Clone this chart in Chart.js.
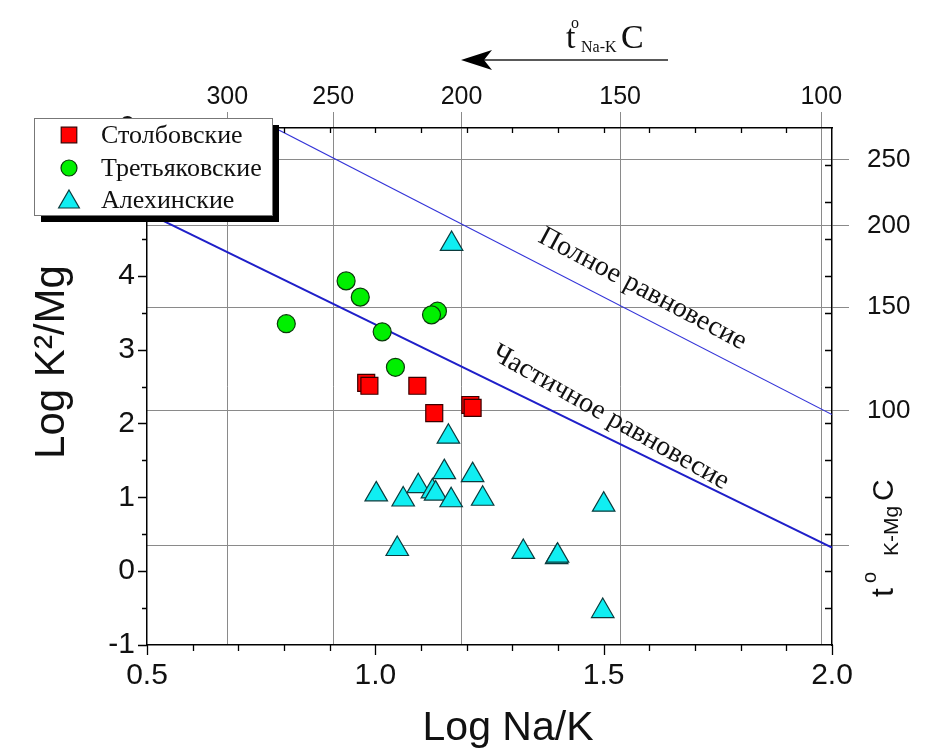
<!DOCTYPE html>
<html>
<head>
<meta charset="utf-8">
<script src="https://cdn.jsdelivr.net/npm/chart.js@4.4.1/dist/chart.umd.min.js"></script>
<style>
  html, body { margin: 0; padding: 0; background: #fff; }
  canvas { display: block; }
</style>
</head>
<body>
<canvas id="myChart" width="952" height="749"></canvas>
<script>
// ============  data ============ //

const stolbX = [0.980, 0.987, 1.092, 1.129, 1.208, 1.213];
const stolbY = [2.55, 2.51, 2.51, 2.14, 2.25, 2.21];

const tretX = [0.805, 0.936, 0.967, 1.015, 1.044, 1.136, 1.123];
const tretY = [3.35, 3.93, 3.71, 3.24, 2.76, 3.52, 3.47];

const alekhX = [1.167, 1.160, 1.151, 1.213, 1.002, 1.061, 1.094, 1.125, 1.132, 1.166, 1.235, 1.500, 1.048, 1.324, 1.397, 1.399, 1.498];
const alekhY = [4.43, 1.82, 1.34, 1.30, 1.04, 0.97, 1.15, 1.08, 1.05, 0.96, 0.98, 0.90, 0.30, 0.26, 0.19, 0.21, -0.54];

// equilibrium lines (end points)
const fullEqX = [0.78, 2.0];
const fullEqY = [6.0, 2.12];
const partEqX = [0.5, 2.0];
const partEqY = [4.85, 0.32];

// tick labels
const xTicks = [0.5, 1.0, 1.5, 2.0];
const yTicks = [-1, 0, 1, 2, 3, 4, 5, 6];
const tNaK = [300, 250, 200, 150, 100];          // top axis, deg C
const tKMg = [250, 200, 150, 100, 50];           // right axis, deg C
const tKMgLabels = ['250', '200', '150', '100', ''];

const seriesNames = ['Столбовские', 'Третьяковские', 'Алехинские'];

// Giggenbach geothermometers -> position on the log axes
const naKToX = t => 1390 / (t + 273) - 1.75;
const kMgToY = t => 14 - 4410 / (t + 273);

const W = 952, H = 749;
const AREA = { left: 147, right: 832, top: 128, bottom: 645 };
const SANS = "'Liberation Sans', Arial, sans-serif";
const SERIF = "'Liberation Serif', 'Times New Roman', serif";

const pts = (xs, ys) => xs.map((x, i) => ({ x: x, y: ys[i] }));

const markers = [
    { style: 'rect', radius: 12, fill: '#ff0000', border: '#3a0000' },
    { style: 'circle', radius: 9, fill: '#00f000', border: '#0a3a0a' },
    { style: 'triangle', radius: 13, fill: '#10eef2', border: '#0b3b3d' }
];

// pieces of a title like t°(Na-K)C: [text, size, dx, dy]
function drawPieces(ctx, x, y, family, pieces) {
    ctx.textAlign = 'left';
    ctx.textBaseline = 'alphabetic';
    pieces.forEach(p => {
        ctx.font = p[1] + 'px ' + family;
        ctx.fillText(p[0], x + p[2], y + p[3]);
    });
}

const decor = {
    id: 'decor',
    afterDatasetsDraw(chart) {
        const ctx = chart.ctx;
        const xs = chart.scales.x, ys = chart.scales.y;
        ctx.save();
        ctx.fillStyle = '#111';
        ctx.font = '28px ' + SERIF;
        ctx.textAlign = 'center';
        ctx.textBaseline = 'middle';
        [['Полное равновесие', 1.585, 3.82, 28], ['Частичное равновесие', 1.515, 2.08, 29.5]].forEach(l => {
            ctx.save();
            ctx.translate(xs.getPixelForValue(l[1]), ys.getPixelForValue(l[2]));
            ctx.rotate(l[3] * Math.PI / 180);
            ctx.fillText(l[0], 0, 0);
            ctx.restore();
        });
        ctx.restore();
    },
    afterDraw(chart) {
        const ctx = chart.ctx;
        const xs = chart.scales.x, ys = chart.scales.y;
        const a = chart.chartArea;
        ctx.save();
        ctx.strokeStyle = '#000';
        ctx.lineWidth = 1.3;
        ctx.beginPath();
        // bottom / top minor + major ticks
        for (let i = 5; i <= 20; i++) {
            const px = Math.round(xs.getPixelForValue(i / 10)) + 0.5;
            const len = i % 5 === 0 ? 10 : 6;
            ctx.moveTo(px, a.bottom); ctx.lineTo(px, a.bottom + len);
            if (i > 5 && i < 20) { ctx.moveTo(px, a.top); ctx.lineTo(px, a.top + 5); }
        }
        // left / right ticks
        for (let i = -2; i <= 12; i++) {
            const py = Math.round(ys.getPixelForValue(i / 2)) + 0.5;
            const len = i % 2 === 0 ? 9 : 5;
            ctx.moveTo(a.left, py); ctx.lineTo(a.left - len, py);
            if (i > -2 && i < 12) { ctx.moveTo(a.right, py); ctx.lineTo(a.right - 7, py); }
        }
        ctx.stroke();

        // axis titles
        ctx.fillStyle = '#111';
        ctx.font = '41px ' + SANS;
        ctx.textAlign = 'center';
        ctx.textBaseline = 'alphabetic';
        ctx.fillText('Log Na/K', 508, 740);
        ctx.save();
        ctx.translate(64, 362);
        ctx.rotate(-Math.PI / 2);
        ctx.font = '42px ' + SANS;
        ctx.fillText('Log K²/Mg', 0, 0);
        ctx.restore();

        // top title with arrow
        drawPieces(ctx, 566, 48, SERIF, [['t', 34, 0, 0], ['o', 16, 5, -20], ['Na-K', 16, 15, 4], ['C', 34, 55, 0]]);
        ctx.strokeStyle = '#222';
        ctx.lineWidth = 1.5;
        ctx.beginPath();
        ctx.moveTo(668, 60); ctx.lineTo(470, 60);
        ctx.stroke();
        ctx.fillStyle = '#000';
        ctx.beginPath();
        ctx.moveTo(461, 60); ctx.lineTo(492, 50); ctx.lineTo(484, 60); ctx.lineTo(492, 70);
        ctx.closePath();
        ctx.fill();

        // right title, rotated
        ctx.fillStyle = '#111';
        ctx.save();
        ctx.translate(893, 597);
        ctx.rotate(-Math.PI / 2);
        drawPieces(ctx, 0, 0, SANS, [['t', 32, 0, 0], ['o', 20, 14, -17], ['K-Mg', 21, 41, 5], ['C', 30, 96, 0]]);
        ctx.restore();

        // legend box with shadow
        const lx = 34, ly = 118, lw = 238, lh = 97;
        ctx.fillStyle = '#000';
        ctx.fillRect(lx + 7, ly + 7, lw, lh);
        ctx.fillStyle = '#fff';
        ctx.fillRect(lx, ly, lw, lh);
        ctx.strokeStyle = '#777';
        ctx.lineWidth = 1;
        ctx.strokeRect(lx + 0.5, ly + 0.5, lw, lh);
        const rows = [135, 168, 200];
        ctx.font = '26px ' + SERIF;
        ctx.textAlign = 'left';
        ctx.textBaseline = 'middle';
        seriesNames.forEach((name, i) => {
            const m = markers[i];
            ctx.fillStyle = m.fill;
            ctx.strokeStyle = m.border;
            ctx.lineWidth = 1.2;
            Chart.helpers.drawPoint(ctx, { pointStyle: m.style, radius: m.radius - 1, rotation: 0, borderWidth: 1.2 }, 69, rows[i] + (m.style === 'triangle' ? 2 : 0));
            ctx.fillStyle = '#111';
            ctx.fillText(name, 101, rows[i] + 1);
        });
        ctx.restore();
    }
};

const ctx1 = document.getElementById('myChart').getContext('2d');

let scatterChart = new Chart(ctx1, {
    type: 'scatter',
    data: {
        datasets: [
            {
                label: seriesNames[0], data: pts(stolbX, stolbY),
                pointStyle: markers[0].style, pointRadius: markers[0].radius,
                backgroundColor: markers[0].fill, borderColor: markers[0].border, borderWidth: 1.2,
                xAxisID: 'x', yAxisID: 'y', order: 1
            },
            {
                label: seriesNames[1], data: pts(tretX, tretY),
                pointStyle: markers[1].style, pointRadius: markers[1].radius,
                backgroundColor: markers[1].fill, borderColor: markers[1].border, borderWidth: 1.2,
                xAxisID: 'x', yAxisID: 'y', order: 2
            },
            {
                label: seriesNames[2], data: pts(alekhX, alekhY),
                pointStyle: markers[2].style, pointRadius: markers[2].radius,
                backgroundColor: markers[2].fill, borderColor: markers[2].border, borderWidth: 1.2,
                xAxisID: 'x', yAxisID: 'y', order: 3
            },
            {
                type: 'line', label: 'full', data: pts(fullEqX, fullEqY),
                borderColor: '#3434d8', borderWidth: 1.2, pointRadius: 0, fill: false,
                xAxisID: 'x', yAxisID: 'y', order: 10
            },
            {
                type: 'line', label: 'partial', data: pts(partEqX, partEqY),
                borderColor: '#1f1fc9', borderWidth: 2, pointRadius: 0, fill: false,
                xAxisID: 'x', yAxisID: 'y', order: 10
            }
        ]
    },
    options: {
        responsive: false,
        animation: false,
        layout: { padding: 0, autoPadding: false },
        plugins: { legend: { display: false }, tooltip: { enabled: false } },
        scales: {
            x: {
                type: 'linear', position: 'bottom', min: 0.5, max: 2.0,
                afterBuildTicks: s => { s.ticks = xTicks.map(v => ({ value: v })); },
                afterFit: s => { s.height = H - AREA.bottom; },
                ticks: { callback: v => v.toFixed(1), font: { family: SANS, size: 30 }, color: '#111', padding: 13, maxRotation: 0, autoSkip: false },
                grid: { display: false, drawTicks: false },
                border: { display: true, color: '#000', width: 1.5 }
            },
            x2: {
                type: 'linear', position: 'top', min: 0.5, max: 2.0,
                afterBuildTicks: s => { s.ticks = tNaK.map(t => ({ value: naKToX(t) })); },
                afterFit: s => { s.height = AREA.top; },
                ticks: { callback: (v, i) => String(tNaK[i]), font: { family: SANS, size: 25 }, color: '#111', padding: 0, maxRotation: 0, autoSkip: false },
                grid: { display: true, color: '#8a8a8a', lineWidth: 1, drawTicks: true, tickLength: 16 },
                border: { display: true, color: '#000', width: 1.5 }
            },
            y: {
                type: 'linear', position: 'left', min: -1, max: 6,
                afterBuildTicks: s => { s.ticks = yTicks.map(v => ({ value: v })); },
                afterFit: s => { s.width = AREA.left; },
                ticks: { callback: v => String(v), font: { family: SANS, size: 30 }, color: '#111', padding: 12, autoSkip: false },
                grid: { display: false, drawTicks: false },
                border: { display: true, color: '#000', width: 1.5 }
            },
            y2: {
                type: 'linear', position: 'right', min: -1, max: 6,
                afterBuildTicks: s => { s.ticks = tKMg.map(t => ({ value: kMgToY(t) })); },
                afterFit: s => { s.width = W - AREA.right; },
                ticks: { callback: (v, i) => tKMgLabels[i], font: { family: SANS, size: 26 }, color: '#111', padding: 18, autoSkip: false },
                grid: { display: true, color: '#8a8a8a', lineWidth: 1, drawTicks: true, tickLength: 17 },
                border: { display: true, color: '#000', width: 1.5 }
            }
        }
    },
    plugins: [decor]
});
</script>
</body>
</html>
